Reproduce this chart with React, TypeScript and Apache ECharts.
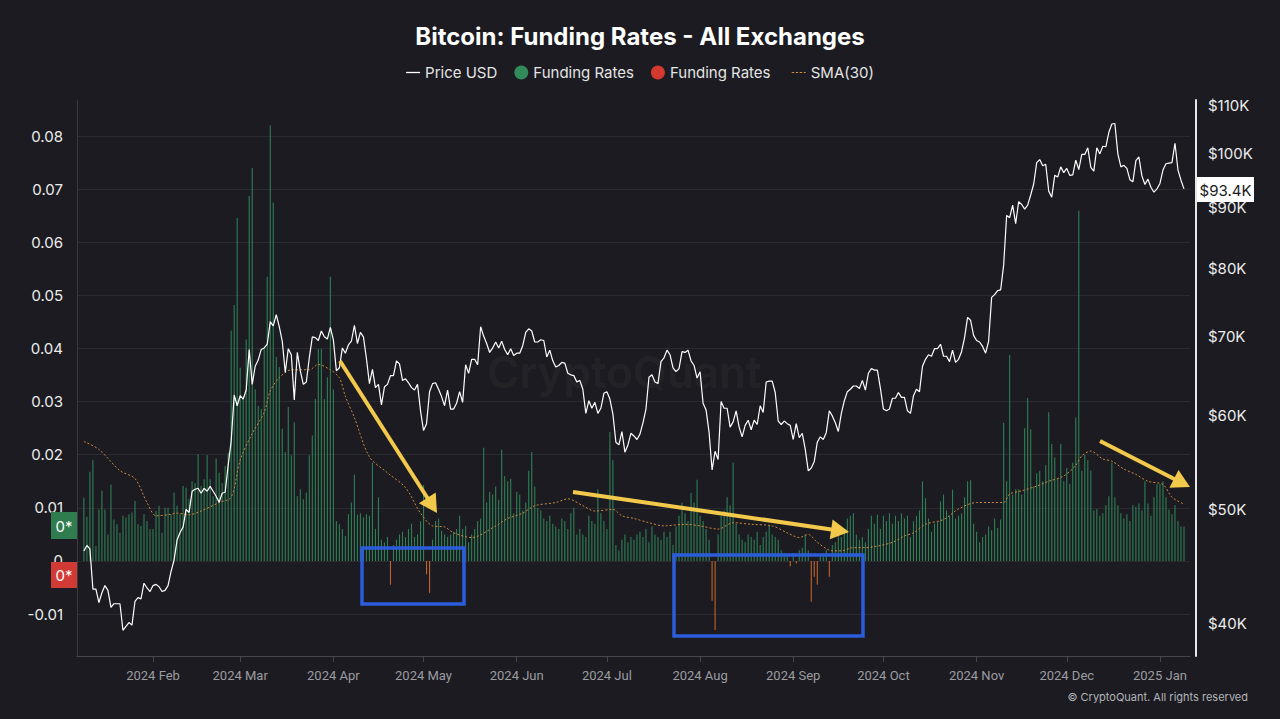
import React, { useEffect, useRef } from "react";
import * as echarts from "echarts";

// ---------- DATA ----------
const START_DATE = Date.UTC(2024, 0, 9);
const DAY_MS = 86400000;

// Daily BTC price (thousand USD), 2024-01-09 .. 2025-01-09
const priceJan24 = [46.1, 46.6, 46.3, 42.8, 42.8, 41.7, 42.5, 43.1, 42.7, 41.3, 41.6, 41.6, 41.6, 39.5, 39.8, 40.1, 39.9, 41.8, 42.1, 42.0, 43.3, 42.9, 42.6];
const priceFeb24 = [43.1, 43.2, 43.0, 42.6, 42.7, 43.1, 44.3, 45.3, 47.1, 47.8, 48.3, 50.0, 49.7, 51.8, 52.0, 52.1, 51.6, 52.1, 51.8, 52.3, 51.8, 51.3, 50.7, 51.6, 51.7, 54.5, 57.1, 62.5, 61.2];
const priceMar24 = [62.4, 62.0, 63.1, 68.3, 63.8, 66.1, 66.9, 68.3, 68.5, 69.0, 72.1, 71.5, 73.1, 71.4, 69.4, 65.3, 68.4, 67.6, 61.9, 67.9, 65.5, 63.8, 64.1, 67.2, 70.0, 69.9, 69.5, 70.8, 70.0, 69.7, 71.3];
const priceApr24 = [69.6, 65.5, 65.9, 68.5, 67.8, 68.9, 69.4, 71.6, 69.1, 70.6, 70.0, 67.1, 63.9, 65.7, 63.4, 63.8, 61.3, 63.5, 63.8, 64.9, 64.9, 66.8, 66.4, 64.3, 64.5, 64.0, 63.4, 63.1, 63.8, 60.6];
const priceMay24 = [58.3, 59.1, 62.9, 63.9, 64.0, 63.2, 62.3, 61.2, 63.1, 60.8, 60.8, 61.5, 62.9, 61.6, 66.3, 65.2, 67.0, 67.0, 66.3, 71.4, 70.1, 69.1, 67.9, 68.5, 69.3, 68.5, 69.4, 68.3, 67.6, 68.4, 67.5];
const priceJun24 = [67.8, 67.8, 68.8, 70.6, 71.1, 70.8, 69.3, 69.3, 69.6, 69.5, 67.3, 68.2, 66.8, 66.0, 66.2, 66.6, 66.5, 65.2, 65.0, 64.9, 64.1, 64.3, 63.2, 60.3, 61.8, 60.9, 61.6, 60.3, 60.9, 62.7];
const priceJul24 = [62.9, 62.0, 60.2, 57.0, 56.7, 58.2, 55.9, 56.7, 58.0, 57.7, 57.3, 57.9, 59.2, 60.8, 64.7, 65.0, 64.1, 63.9, 66.7, 67.2, 68.2, 67.6, 65.9, 65.4, 65.8, 68.0, 67.9, 68.2, 66.8, 66.2, 64.6];
const priceAug24 = [65.4, 61.5, 60.7, 58.1, 54.0, 56.0, 55.1, 61.7, 60.9, 60.9, 58.7, 59.3, 60.6, 58.7, 57.6, 58.9, 59.5, 58.4, 59.5, 59.0, 61.2, 60.4, 64.1, 64.2, 64.2, 62.8, 59.4, 59.0, 59.4, 59.1, 58.9];
const priceSep24 = [57.3, 59.1, 57.5, 58.0, 56.2, 53.9, 54.2, 54.9, 57.0, 57.6, 57.3, 58.1, 60.6, 60.0, 59.2, 58.2, 60.3, 61.8, 62.9, 63.2, 63.6, 63.6, 63.3, 64.3, 63.1, 65.2, 65.8, 65.6, 65.6, 63.3];
const priceOct24 = [60.8, 60.6, 60.8, 62.1, 62.1, 62.8, 62.2, 62.2, 60.6, 60.3, 62.4, 63.2, 62.9, 66.1, 67.0, 67.6, 67.4, 68.4, 68.4, 69.0, 67.4, 67.4, 66.7, 68.2, 66.6, 67.0, 68.0, 69.9, 72.7, 72.3, 70.2];
const priceNov24 = [69.5, 69.3, 68.7, 67.8, 69.4, 75.6, 76.0, 76.6, 76.7, 80.5, 88.7, 88.3, 90.5, 87.3, 91.1, 90.6, 89.8, 90.5, 92.3, 94.3, 98.3, 98.9, 97.7, 98.0, 93.0, 91.9, 95.9, 95.6, 97.5, 96.4];
const priceDec24 = [97.2, 95.9, 96.0, 98.8, 97.0, 99.9, 99.9, 101.2, 97.4, 96.7, 101.2, 100.0, 101.5, 101.4, 104.3, 106.0, 106.1, 100.0, 97.5, 97.8, 97.2, 95.1, 94.7, 98.7, 99.4, 95.8, 94.2, 95.2, 93.7, 92.8, 93.4];
const priceJan25 = [94.4, 96.9, 98.1, 98.2, 98.3, 102.1, 96.9, 95.0, 93.4];

// Daily funding rates, same dates
const fundJan24 = [0.0119, 0.0083, 0.0168, 0.019, 0.0028, 0.0097, 0.0132, 0.0097, 0.005, 0.0144, 0.0078, 0.0069, 0.0053, 0.0085, 0.0082, 0.0088, 0.0091, 0.0113, 0.0069, 0.0066, 0.0088, 0.0075, 0.006];
const fundFeb24 = [0.006, 0.0094, 0.0104, 0.0053, 0.01, 0.01, 0.0088, 0.0129, 0.0104, 0.0088, 0.0141, 0.0138, 0.0116, 0.015, 0.0147, 0.0201, 0.0141, 0.0154, 0.0199, 0.0154, 0.0122, 0.0193, 0.0166, 0.0147, 0.0179, 0.0204, 0.0434, 0.0482, 0.0646];
const fundMar24 = [0.0364, 0.031, 0.0417, 0.0687, 0.074, 0.0323, 0.0292, 0.0286, 0.0399, 0.0535, 0.082, 0.0675, 0.0384, 0.0365, 0.0249, 0.0205, 0.029, 0.0199, 0.0261, 0.0122, 0.0135, 0.0116, 0.0129, 0.0199, 0.0236, 0.0305, 0.0399, 0.0399, 0.0305, 0.0346, 0.0535];
const fundApr24 = [0.0323, 0.0075, 0.0069, 0.006, 0.0047, 0.0088, 0.011, 0.0163, 0.0087, 0.009, 0.0082, 0.0088, 0.0085, 0.0185, 0.006, 0.012, 0.004, 0.0035, 0.0045, -0.0045, 0.003, 0.004, 0.005, 0.0055, 0.0045, 0.006, 0.007, 0.0045, 0.005, 0.0075];
const fundMay24 = [0.0143, -0.0025, -0.006, 0.004, 0.0075, 0.008, 0.0057, 0.005, 0.0045, 0.005, 0.0055, 0.006, 0.0085, 0.006, 0.0066, 0.0035, 0.005, 0.006, 0.0075, 0.008, 0.0213, 0.011, 0.013, 0.0125, 0.014, 0.0115, 0.021, 0.016, 0.015, 0.0155, 0.009];
const fundJun24 = [0.013, 0.0125, 0.0095, 0.011, 0.017, 0.0205, 0.014, 0.01, 0.0095, 0.008, 0.0075, 0.0085, 0.007, 0.0065, 0.006, 0.008, 0.0075, 0.006, 0.009, 0.01, 0.005, 0.006, 0.005, 0.0045, 0.0085, 0.0075, 0.007, 0.0135, 0.009, 0.0075];
const fundJul24 = [0.006, 0.0243, 0.019, 0.003, 0.002, 0.004, 0.005, 0.0035, 0.0045, 0.004, 0.005, 0.0055, 0.0045, 0.006, 0.0035, 0.0065, 0.005, 0.0045, 0.004, 0.0055, 0.0045, 0.0055, 0.003, 0.0065, 0.0085, 0.011, 0.009, 0.0075, 0.0128, 0.011, 0.0153];
const fundAug24 = [0.0085, 0.0075, 0.006, 0.004, -0.0075, -0.013, 0.005, 0.0085, 0.0095, 0.012, 0.0105, 0.0185, 0.007, 0.005, 0.004, 0.0035, 0.005, 0.0045, 0.004, 0.0055, 0.003, 0.0045, 0.0055, 0.0066, 0.005, 0.0045, 0.004, 0.002, 0.0015, 0.001, -0.001];
const fundSep24 = [0.0015, -0.0005, 0.002, 0.0025, 0.005, 0.002, -0.0077, -0.003, -0.0045, 0.001, 0.0015, 0.002, -0.003, 0.003, 0.0035, 0.005, 0.0045, 0.006, 0.008, 0.0085, 0.009, 0.005, 0.004, 0.0045, 0.0035, 0.006, 0.0085, 0.007, 0.0087, 0.006];
const fundOct24 = [0.0085, 0.0075, 0.009, 0.007, 0.0085, 0.0075, 0.009, 0.008, 0.0085, 0.0045, 0.0075, 0.0085, 0.0095, 0.015, 0.0118, 0.008, 0.0055, 0.007, 0.0075, 0.0112, 0.0125, 0.0095, 0.0085, 0.0134, 0.008, 0.0085, 0.009, 0.012, 0.015, 0.0152, 0.007];
const fundNov24 = [0.0055, 0.0035, 0.0045, 0.005, 0.0065, 0.0058, 0.008, 0.0062, 0.0078, 0.026, 0.015, 0.0388, 0.0125, 0.0135, 0.0135, 0.0125, 0.025, 0.0307, 0.0248, 0.014, 0.0165, 0.017, 0.015, 0.018, 0.028, 0.022, 0.0195, 0.0155, 0.022, 0.015];
const fundDec24 = [0.0175, 0.0145, 0.0185, 0.027, 0.066, 0.017, 0.02, 0.019, 0.017, 0.0095, 0.0098, 0.0085, 0.009, 0.0105, 0.0122, 0.0185, 0.012, 0.0105, 0.009, 0.008, 0.0088, 0.0075, 0.0105, 0.0102, 0.0108, 0.0095, 0.015, 0.0108, 0.0085, 0.012, 0.0145];
const fundJan25 = [0.0145, 0.015, 0.012, 0.0097, 0.0088, 0.0105, 0.0075, 0.0065, 0.0065];

// SMA(30) of funding rates, read at day offsets from 2024-01-09
const smaDays = [0, 5, 12, 17, 21, 24, 28, 31, 35, 39, 45, 49, 52, 56, 60, 62, 65, 69, 75, 78, 82, 85, 87, 90, 95, 101, 107, 112, 116, 120, 123, 129, 137, 141, 146, 150, 157, 161, 166, 170, 176, 179, 183, 188, 193, 200, 205, 211, 216, 222, 229, 234, 238, 241, 244, 249, 252, 256, 260, 264, 269, 273, 276, 280, 286, 291, 297, 302, 306, 308, 312, 317, 321, 326, 330, 332, 335, 339, 342, 346, 350, 354, 359, 362, 366];
const smaValues = [0.0225, 0.021, 0.017, 0.0155, 0.011, 0.0085, 0.0087, 0.009, 0.0087, 0.0094, 0.011, 0.012, 0.019, 0.024, 0.028, 0.032, 0.0345, 0.036, 0.036, 0.037, 0.036, 0.0345, 0.031, 0.027, 0.0196, 0.0166, 0.0138, 0.009, 0.0066, 0.0064, 0.0053, 0.0044, 0.0066, 0.008, 0.009, 0.0104, 0.011, 0.0117, 0.0104, 0.0094, 0.0097, 0.0085, 0.008, 0.0072, 0.0066, 0.0069, 0.0066, 0.006, 0.0072, 0.0069, 0.0066, 0.0053, 0.0044, 0.005, 0.0035, 0.0019, 0.0019, 0.0025, 0.0025, 0.0028, 0.0035, 0.0047, 0.0053, 0.0069, 0.0078, 0.0098, 0.011, 0.011, 0.011, 0.0126, 0.0132, 0.0141, 0.015, 0.016, 0.018, 0.0198, 0.0207, 0.0192, 0.0188, 0.0173, 0.0163, 0.015, 0.0144, 0.012, 0.0107];

const monthTicks = [
  Date.UTC(2024, 1, 1), Date.UTC(2024, 2, 1), Date.UTC(2024, 3, 1), Date.UTC(2024, 4, 1),
  Date.UTC(2024, 5, 1), Date.UTC(2024, 6, 1), Date.UTC(2024, 7, 1), Date.UTC(2024, 8, 1),
  Date.UTC(2024, 9, 1), Date.UTC(2024, 10, 1), Date.UTC(2024, 11, 1), Date.UTC(2025, 0, 1),
];
const monthNames = ["Jan", "Feb", "Mar", "Apr", "May", "Jun", "Jul", "Aug", "Sep", "Oct", "Nov", "Dec"];
const rateTicks = [-0.01, 0, 0.01, 0.02, 0.03, 0.04, 0.05, 0.06, 0.07, 0.08];
const priceTicks = [40, 50, 60, 70, 80, 90, 100, 110];
const lastPriceLabel = "$93.4K";

// ---------- STYLE ----------
const BG = "#1b1b21";
const GREEN = "#318a59";
const BAR_GREEN = "#2f8055";
const RED = "#d4392f";
const NEG_BAR = "#c0642c";
const SMA_COLOR = "#cf8a3c";
const YELLOW = "#f3c94b";
const BLUE = "#2b5cdc";

function arrow(x1: number, y1: number, x2: number, y2: number) {
  const dx = x2 - x1, dy = y2 - y1;
  const L = Math.hypot(dx, dy);
  const ux = dx / L, uy = dy / L;
  const nx = -uy, ny = ux;
  const hl = 18, hw = 10;
  const bx = x2 - ux * hl, by = y2 - uy * hl;
  return [
    { type: "line", z: 100, shape: { x1, y1, x2: bx + ux * 2, y2: by + uy * 2 }, style: { stroke: YELLOW, lineWidth: 4 } },
    { type: "polygon", z: 100, shape: { points: [[x2, y2], [bx + nx * hw, by + ny * hw], [bx - nx * hw, by - ny * hw]] }, style: { fill: YELLOW } },
  ];
}

export default function App() {
  const ref = useRef<HTMLDivElement>(null);
  useEffect(() => {
    if (!ref.current) return;
    const chart = echarts.init(ref.current, undefined, { renderer: "svg" });

    const prices = [...priceJan24, ...priceFeb24, ...priceMar24, ...priceApr24, ...priceMay24, ...priceJun24, ...priceJul24, ...priceAug24, ...priceSep24, ...priceOct24, ...priceNov24, ...priceDec24, ...priceJan25];
    const funding = [...fundJan24, ...fundFeb24, ...fundMar24, ...fundApr24, ...fundMay24, ...fundJun24, ...fundJul24, ...fundAug24, ...fundSep24, ...fundOct24, ...fundNov24, ...fundDec24, ...fundJan25];
    const dateOf = (i: number) => START_DATE + i * DAY_MS;

    const priceData = prices.map((p, i) => [dateOf(i), p]);
    const posData = funding.map((v, i) => [dateOf(i), v >= 0 ? v : "-"]);
    const negData = funding.map((v, i) => [dateOf(i), v < 0 ? v : "-"]);
    const smaData = smaDays.map((d, i) => [dateOf(d), smaValues[i]]);

    const font = "Inter";

    const option: any = {
      backgroundColor: BG,
      animation: false,
      textStyle: { fontFamily: font },
      title: {
        text: "Bitcoin: Funding Rates - All Exchanges",
        left: "center",
        top: 19,
        textStyle: { color: "#ffffff", fontSize: 24, fontWeight: "bold", fontFamily: font },
      },
      legend: {
        top: 60,
        left: "center",
        itemWidth: 14,
        itemHeight: 14,
        itemGap: 17,
        itemStyle: { borderWidth: 0 },
        textStyle: { color: "#e4e4e4", fontSize: 15, fontFamily: font },
        data: [
          { name: "Price USD", icon: "path://M0,0H14V1.3H0Z" },
          { name: "Funding Rates", icon: "circle", itemStyle: { color: GREEN } },
          { name: "Funding Rates ", icon: "circle", itemStyle: { color: RED } },
          { name: "SMA(30)", icon: "path://M0,0H2.4V1.1H0ZM4,0H6.4V1.1H4ZM8,0H10.4V1.1H8ZM12,0H14V1.1H12Z" },
        ],
      },
      grid: { left: 77, right: 90, top: 100, bottom: 63 },
      xAxis: {
        type: "value",
        min: Date.UTC(2024, 0, 6, 17),
        max: Date.UTC(2025, 0, 11),
        axisLine: { show: true, onZero: false, lineStyle: { color: "#45454d", width: 1 } },
        axisTick: { show: true, customValues: monthTicks, length: 6, lineStyle: { color: "#45454d" } },
        axisLabel: {
          customValues: monthTicks,
          color: "#9b9ba0",
          fontSize: 13,
          fontFamily: "Roboto",
          margin: 13,
          formatter: (v: number) => {
            const d = new Date(v);
            return `${d.getUTCFullYear()} ${monthNames[d.getUTCMonth()]}`;
          },
        },
        splitLine: { show: false },
      },
      yAxis: [
        {
          type: "value",
          position: "left",
          min: -0.0179,
          max: 0.0868,
          axisLine: { show: true, lineStyle: { color: "#3a3a42" } },
          axisTick: { show: false, customValues: rateTicks },
          axisLabel: {
            customValues: rateTicks,
            color: "#ececec",
            fontSize: 15,
            margin: 14,
            fontFamily: font,
            formatter: (v: number) => String(Number(v.toFixed(2))),
          },
          splitLine: { show: true, lineStyle: { color: "#2a2a31", width: 1 } },
        },
        {
          type: "log",
          logBase: 10,
          position: "right",
          offset: 6,
          min: 37.57,
          max: 111.08,
          axisLine: { show: true, lineStyle: { color: "#e6e6e6", width: 2 } },
          axisTick: { show: false },
          axisLabel: {
            customValues: priceTicks,
            color: "#ececec",
            fontSize: 15,
            margin: 12,
            fontFamily: font,
            formatter: (v: number) => `$${Math.round(v)}K`,
          },
          splitLine: { show: false },
        },
      ],
      series: [
        {
          name: "Funding Rates",
          type: "bar",
          yAxisIndex: 0,
          data: posData,
          barWidth: 1.1,
          barGap: "-100%",
          itemStyle: { color: BAR_GREEN },
          color: BAR_GREEN,
          z: 2,
        },
        {
          name: "Funding Rates ",
          type: "bar",
          yAxisIndex: 0,
          data: negData,
          barWidth: 1.1,
          barGap: "-100%",
          itemStyle: { color: NEG_BAR },
          color: NEG_BAR,
          z: 2,
        },
        {
          name: "SMA(30)",
          type: "line",
          yAxisIndex: 0,
          data: smaData,
          symbol: "none",
          smooth: 0.3,
          color: SMA_COLOR,
          lineStyle: { color: SMA_COLOR, width: 1, type: [2, 2] },
          z: 3,
        },
        {
          name: "Price USD",
          type: "line",
          yAxisIndex: 1,
          data: priceData,
          symbol: "none",
          color: "#ffffff",
          lineStyle: { color: "#ffffff", width: 1.2 },
          z: 4,
        },
      ],
      graphic: [
        {
          type: "text", z: 1, left: 487, top: 350,
          style: { text: "CryptoQuant", fill: "rgba(255,255,255,0.05)", fontSize: 44, fontWeight: 600, fontFamily: font },
        },
        {
          type: "text", z: 100, right: 32, top: 691,
          style: { text: "© CryptoQuant. All rights reserved", fill: "#b4b4b8", fontSize: 11, fontFamily: font },
        },
        { type: "rect", z: 100, shape: { x: 51, y: 512, width: 26, height: 27 }, style: { fill: "#2f7d4e" } },
        { type: "text", z: 101, x: 64, y: 526, style: { text: "0*", fill: "#ffffff", fontSize: 15, fontFamily: font, align: "center", verticalAlign: "middle", textAlign: "center", textVerticalAlign: "middle" } },
        { type: "rect", z: 100, shape: { x: 51, y: 562, width: 26, height: 26 }, style: { fill: "#d23a35" } },
        { type: "text", z: 101, x: 64, y: 575, style: { text: "0*", fill: "#ffffff", fontSize: 15, fontFamily: font, align: "center", verticalAlign: "middle", textAlign: "center", textVerticalAlign: "middle" } },
        { type: "rect", z: 100, shape: { x: 1197, y: 177, width: 57, height: 25 }, style: { fill: "#ffffff" } },
        { type: "text", z: 101, x: 1225.5, y: 190, style: { text: lastPriceLabel, fill: "#1b1b21", fontSize: 15, fontFamily: font, align: "center", verticalAlign: "middle", textAlign: "center", textVerticalAlign: "middle" } },
        { type: "rect", z: 100, shape: { x: 362, y: 548, width: 102, height: 56 }, style: { fill: "none", stroke: BLUE, lineWidth: 3.5 } },
        { type: "rect", z: 100, shape: { x: 674, y: 555, width: 189, height: 81 }, style: { fill: "none", stroke: BLUE, lineWidth: 3.5 } },
        ...arrow(340, 361, 437, 513),
        ...arrow(573, 492, 849, 532),
        ...arrow(1100, 441, 1190, 487),
      ],
    };

    chart.setOption(option);
    return () => chart.dispose();
  }, []);

  return (
    <div
      ref={ref}
      style={{ position: "fixed", left: 0, top: 0, width: 1280, height: 719, background: BG }}
    />
  );
}
